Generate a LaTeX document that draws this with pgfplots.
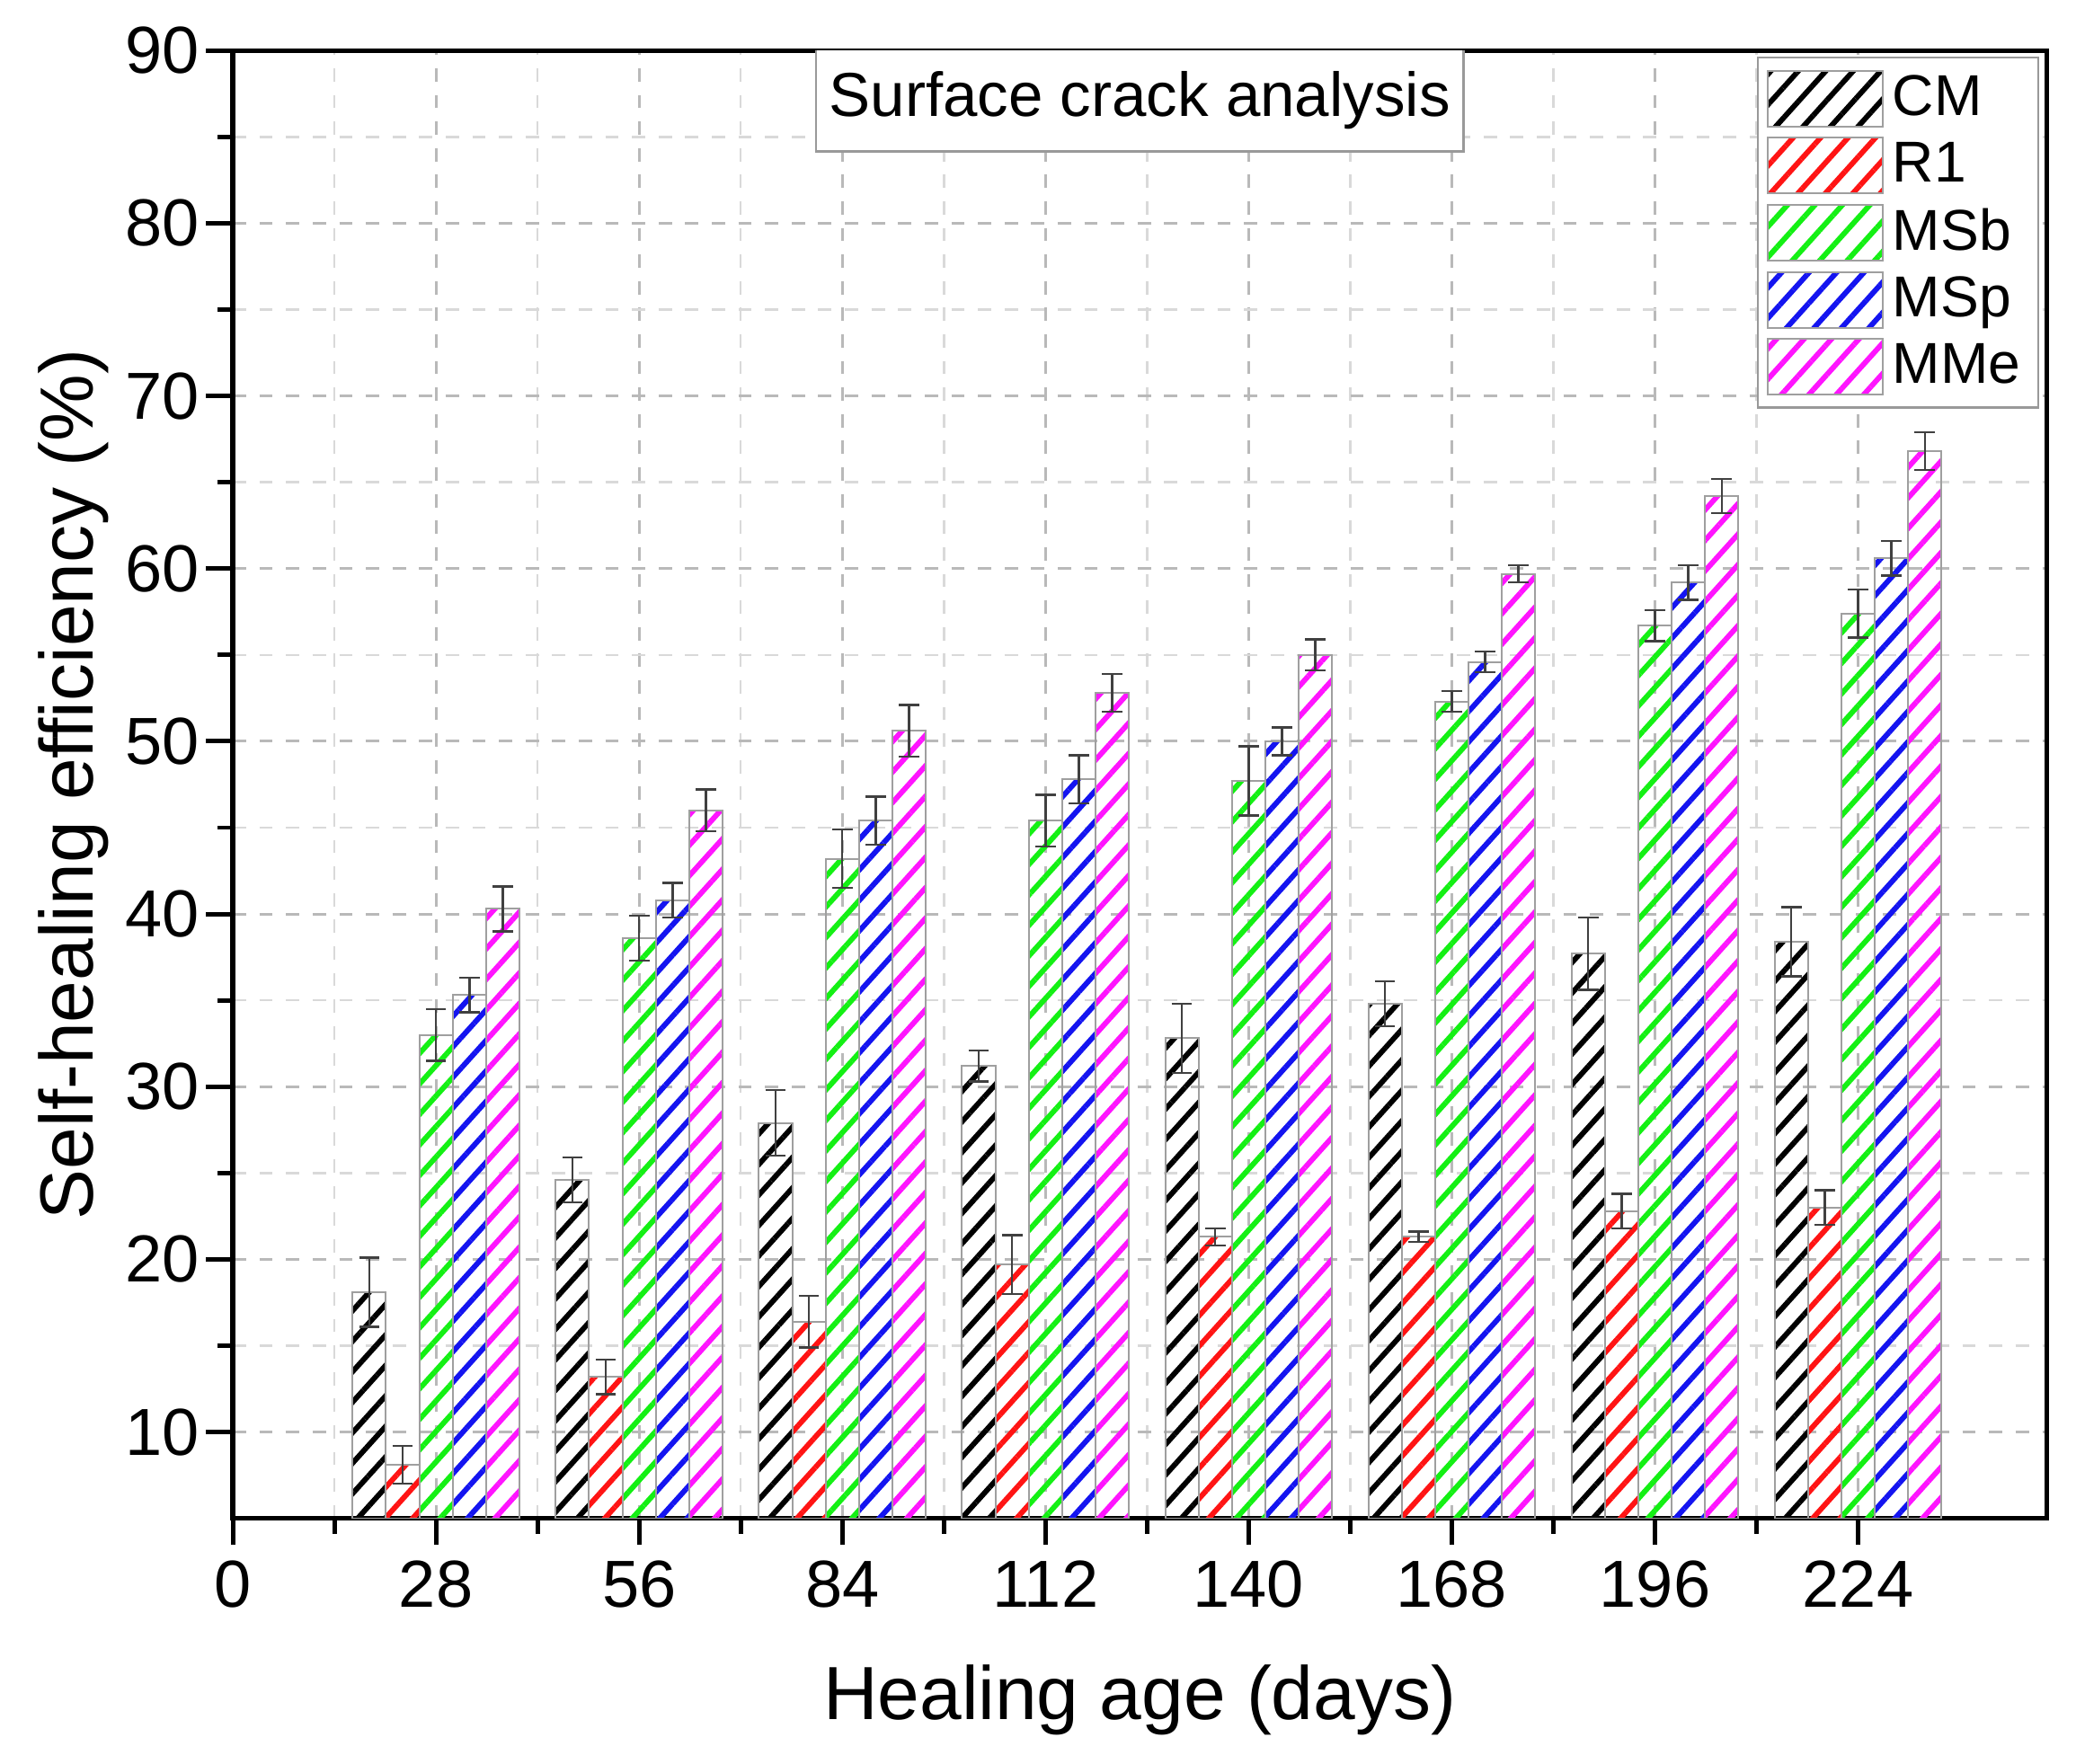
\documentclass[border=0pt]{standalone}
\usepackage{fontspec}
\setmainfont{Liberation Sans}
\usepackage{pgfplots}
\usepackage{pgfplotstable}
\pgfplotsset{compat=1.18}
\usetikzlibrary{patterns.meta}

\definecolor{cRed}{RGB}{255,20,20}
\definecolor{cGreen}{RGB}{20,240,20}
\definecolor{cBlue}{RGB}{20,20,240}
\definecolor{cMag}{RGB}{255,20,255}

% healing age, mean and error of each mix
\pgfplotstableread{
x    cm    cme   r1    r1e   msb   msbe  msp   mspe  mme   mmee
28   18.1  2.0   8.1   1.1   33.0  1.5   35.3  1.0   40.3  1.3
56   24.6  1.3   13.2  1.0   38.6  1.3   40.8  1.0   46.0  1.2
84   27.9  1.9   16.4  1.5   43.2  1.7   45.4  1.4   50.6  1.5
112  31.2  0.9   19.7  1.7   45.4  1.5   47.8  1.4   52.8  1.1
140  32.8  2.0   21.3  0.5   47.7  2.0   50.0  0.8   55.0  0.9
168  34.8  1.3   21.3  0.3   52.3  0.6   54.6  0.6   59.7  0.5
196  37.7  2.1   22.8  1.0   56.7  0.9   59.2  1.0   64.2  1.0
224  38.4  2.0   23.0  1.0   57.4  1.4   60.6  1.0   66.8  1.1
}\data

\pgfplotsset{
  hbar/.style={ybar, bar width=4.6, bar shift=0pt,
    draw=gray!75, line width=0.4pt,
    pattern={Lines[angle=48,distance=4.6pt,line width=1.2pt]},
    legend image code/.code={\draw[##1,draw=gray!75] (0pt,-6.3pt) rectangle (26pt,6.3pt);},
    error bars/y dir=both, error bars/y explicit,
    error bars/error bar style={gray!50!black, line width=0.5pt},
    error bars/error mark options={rotate=90, mark size=2.3pt, gray!50!black, line width=0.5pt}},
}

\begin{document}
\begin{tikzpicture}
\begin{axis}[
  width=409pt, height=331pt, scale only axis,
  xmin=0, xmax=250, ymin=5, ymax=90,
  xtick={0,28,...,224}, ytick={10,20,...,90},
  minor x tick num=1, minor y tick num=1,
  tick pos=left, tick align=outside,
  major tick length=6pt, minor tick length=3.5pt,
  every tick/.style={black, line width=1pt},
  axis line style={line width=1.1pt},
  grid=both,
  major grid style={gray!55, dashed, line width=0.6pt},
  minor grid style={gray!30, dashed, line width=0.5pt},
  /pgf/number format/assume math mode=true,
  tick label style={font=\fontsize{15}{18}\selectfont},
  yticklabel style={xshift=2pt},
  label style={font=\fontsize{17}{20}\selectfont},
  xlabel={Healing age (days)},
  xlabel style={yshift=-6pt},
  ylabel={Self-healing efficiency (\%)},
  ylabel style={yshift=-3pt},
  legend cell align=left,
  legend style={at={(rel axis cs:0.996,0.996)}, anchor=north east,
    draw=gray!80, line width=0.5pt, inner sep=2pt, row sep=0.5pt,
    font=\fontsize{13}{15}\selectfont,
    /tikz/every even column/.append style={column sep=3pt}},
]
\addplot[pattern color=black, hbar] table[x expr=\thisrow{x}-9.2, y=cm, y error=cme] {\data};
\addlegendentry{CM}
\addplot[pattern color=cRed, hbar] table[x expr=\thisrow{x}-4.6, y=r1, y error=r1e] {\data};
\addlegendentry{R1}
\addplot[pattern color=cGreen, hbar] table[x=x, y=msb, y error=msbe] {\data};
\addlegendentry{MSb}
\addplot[pattern color=cBlue, hbar] table[x expr=\thisrow{x}+4.6, y=msp, y error=mspe] {\data};
\addlegendentry{MSp}
\addplot[pattern color=cMag, hbar] table[x expr=\thisrow{x}+9.2, y=mme, y error=mmee] {\data};
\addlegendentry{MMe}
\node[draw=gray!80, fill=white, line width=0.5pt, inner xsep=3pt, inner ysep=5pt,
  font=\fontsize{14}{17}\selectfont] at (rel axis cs:0.5,0.966) {Surface crack analysis};
\end{axis}
\path (current axis.south west) ++(-52.5pt,-55.2pt);
\path (current axis.north east) ++(6.6pt,11.4pt);
\end{tikzpicture}
\end{document}
